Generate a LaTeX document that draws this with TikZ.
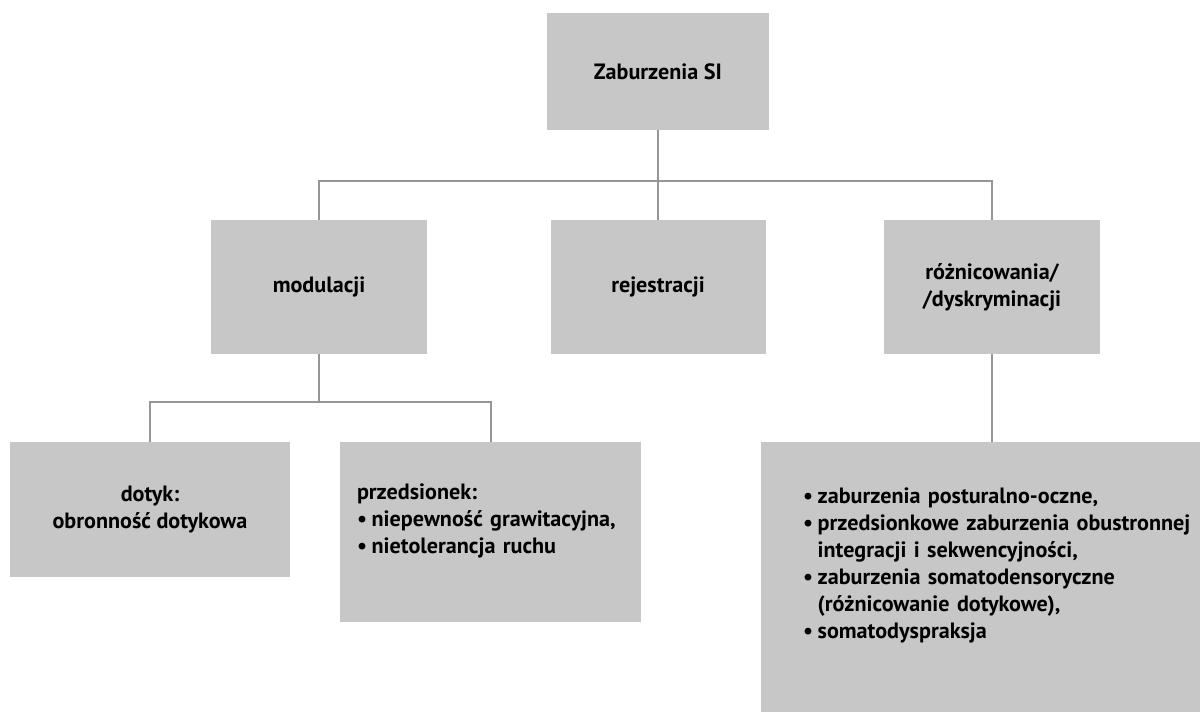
\documentclass[tikz,border=0pt]{standalone}
\usepackage{fontspec}
\setmainfont{PT Sans}
\definecolor{boxgray}{RGB}{198,199,198}
\definecolor{linegray}{RGB}{150,150,150}
\newcommand{\bul}{\makebox[11pt][l]{•}}
\newcommand{\hang}{\hspace*{11pt}}
\begin{document}
\begin{tikzpicture}[x=0.75pt,y=-0.75pt,
  box/.style={fill=boxgray,draw=none,inner sep=0pt,font=\bfseries\fontsize{16.6}{20.25}\selectfont},
  conn/.style={draw=linegray,line width=1.5pt}]
\useasboundingbox (0,0) rectangle (1200,712);
\node[box,minimum width=166.5pt,minimum height=87.75pt,align=center] (top) at (658,71.5) {Zaburzenia SI};
\node[box,minimum width=162pt,minimum height=100.5pt,align=center] (mod) at (319,287) {modulacji};
\node[box,minimum width=161.25pt,minimum height=100.5pt,align=center] (rej) at (658,287) {rejestracji};
\node[box,minimum width=162pt,minimum height=100.5pt,align=center] (roz) at (992,287) {różnicowania/\\/dyskryminacji};
\node[box,minimum width=210pt,minimum height=101.25pt,align=center] (dot) at (150,509.5) {dotyk:\\obronność dotykowa};
\node[box,minimum width=225.75pt,minimum height=135pt,text width=200.25pt,align=left] (prz) at (490.5,532) {przedsionek:\\\mbox{\bul niepewność grawitacyjna,}\\\mbox{\bul nietolerancja ruchu}\\\mbox{}};
\node[box,minimum width=329.25pt,minimum height=202.5pt,text width=266.25pt,align=left] (big) at (980.5,577) {\mbox{\bul zaburzenia posturalno-oczne,}\\\mbox{\bul przedsionkowe zaburzenia obustronnej}\\\mbox{\hang integracji i sekwencyjności,}\\\mbox{\bul zaburzenia somatodensoryczne}\\\mbox{\hang (różnicowanie dotykowe),}\\\mbox{\bul somatodyspraksja}\\\mbox{}};
\coordinate (bus1) at (658,180.7);
\coordinate (bus2) at (319,402);
\draw[conn] (top.south) -- (rej.north);
\draw[conn] (mod.north) |- (bus1) -| (roz.north);
\draw[conn] (mod.south) -- (bus2);
\draw[conn] (dot.north) |- (bus2) -| (prz.north);
\draw[conn] (roz.south) -- (roz.south |- big.north);
\end{tikzpicture}
\end{document}
